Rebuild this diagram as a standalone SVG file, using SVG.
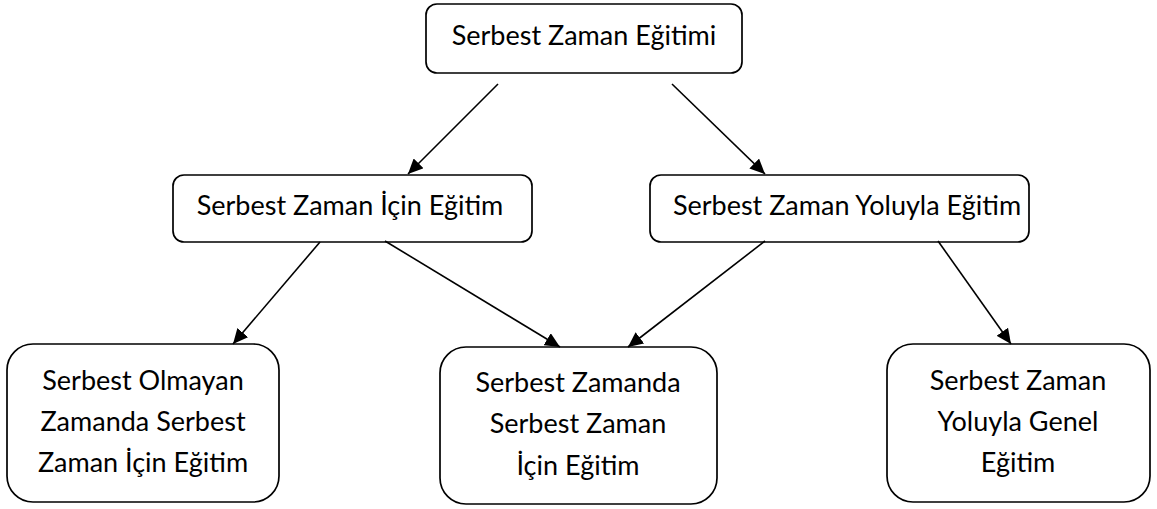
<svg xmlns="http://www.w3.org/2000/svg" width="1157" height="509" viewBox="0 0 1157 509">
<style>
.box{fill:#fff;stroke:#000;stroke-width:1.7}
.t{font-family:Lato,"Open Sans",sans-serif;font-size:27px;fill:#000;text-anchor:middle}
.c{stroke:#000;stroke-width:1.6;fill:none;marker-end:url(#ah)}
</style>
<defs>
<marker id="ah" markerUnits="userSpaceOnUse" markerWidth="16" markerHeight="14" refX="15" refY="7" orient="auto">
<path d="M0,0 L15,7 L0,14 Z" fill="#000"/>
</marker>
</defs>
<rect width="1157" height="509" fill="#fff"/>
<g id="n-top">
<rect class="box" x="426" y="4" width="316" height="69" rx="11"/>
<text class="t" x="584" y="45">Serbest Zaman Eğitimi</text>
</g>
<g id="n-icin">
<rect class="box" x="173" y="175" width="359" height="67" rx="11"/>
<text class="t" x="350" y="215">Serbest Zaman İçin Eğitim</text>
</g>
<g id="n-yoluyla">
<rect class="box" x="650" y="175" width="379" height="67" rx="11"/>
<text class="t" x="847" y="215">Serbest Zaman Yoluyla Eğitim</text>
</g>
<g id="n-olmayan">
<rect class="box" x="7" y="344" width="272" height="158" rx="26"/>
<text class="t" x="143" y="390">Serbest Olmayan</text>
<text class="t" x="143" y="431">Zamanda Serbest</text>
<text class="t" x="143" y="472">Zaman İçin Eğitim</text>
</g>
<g id="n-zamanda">
<rect class="box" x="440" y="347" width="277" height="157" rx="26"/>
<text class="t" x="578" y="392">Serbest Zamanda</text>
<text class="t" x="578" y="433">Serbest Zaman</text>
<text class="t" x="578" y="475">İçin Eğitim</text>
</g>
<g id="n-genel">
<rect class="box" x="887" y="344" width="263" height="158" rx="26"/>
<text class="t" x="1018" y="390">Serbest Zaman</text>
<text class="t" x="1018" y="431">Yoluyla Genel</text>
<text class="t" x="1018" y="472">Eğitim</text>
</g>
<g id="connectors">
<line class="c" x1="498" y1="84" x2="408" y2="174"/>
<line class="c" x1="672" y1="84" x2="765" y2="174"/>
<line class="c" x1="320" y1="242" x2="233" y2="344"/>
<line class="c" x1="385" y1="241" x2="560" y2="347"/>
<line class="c" x1="765" y1="241" x2="628" y2="347"/>
<line class="c" x1="938" y1="241" x2="1011" y2="344"/>
</g>
</svg>
